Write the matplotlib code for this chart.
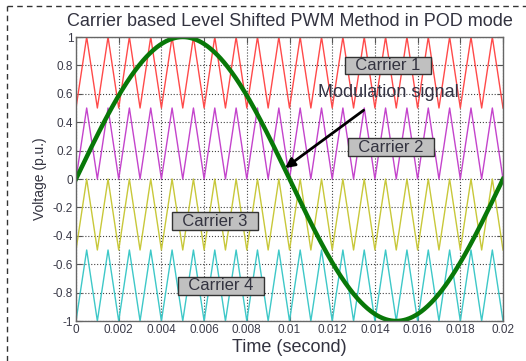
import numpy as np
import matplotlib.pyplot as plt
from matplotlib.lines import Line2D

plt.rcParams['font.family'] = ['Liberation Sans', 'DejaVu Sans']

# Signal parameters
f_mod = 50          # modulation frequency (Hz)
f_carrier = 1000    # carrier frequency (Hz)
t_end = 0.02
carrier_bottoms = [0.5, 0.0, -0.5, -1.0]
carrier_height = 0.5
carrier_colors = ['#ff4a4a', '#c444cc', '#c8c83a', '#3ec8c8']
carrier_names = ['Carrier 1', 'Carrier 2', 'Carrier 3', 'Carrier 4']
label_pos = [(0.01461, 0.80), (0.01475, 0.225), (0.00651, -0.296), (0.00679, -0.753)]

# carrier vertices: troughs and peaks every half period
n_half = int(round(2 * f_carrier * t_end))
t_vert = np.arange(n_half + 1) / (2 * f_carrier)
tri = (np.arange(n_half + 1) % 2).astype(float)

t = np.linspace(0, t_end, 1000)
mod = np.sin(2 * np.pi * f_mod * t)

fig = plt.figure(figsize=(5.26, 3.61), dpi=100)
ax = fig.add_axes([0.1445, 0.1108, 0.8118, 0.7867])

for b, c in zip(carrier_bottoms, carrier_colors):
    ax.plot(t_vert, b + carrier_height * tri, color=c, lw=1.0)
ax.plot(t, mod, color='#087808', lw=3.2)

ax.set_xlim(0, t_end)
ax.set_ylim(-1, 1)
ax.set_xticks(np.arange(0, 0.0201, 0.002))
ax.set_xticklabels(['0', '0.002', '0.004', '0.006', '0.008', '0.01',
                    '0.012', '0.014', '0.016', '0.018', '0.02'])
ax.set_yticks(np.arange(-1, 1.01, 0.2))
ax.set_yticklabels(['-1', '-0.8', '-0.6', '-0.4', '-0.2', '0',
                    '0.2', '0.4', '0.6', '0.8', '1'])
ax.grid(True, color='#444444', linestyle=':', linewidth=0.8)
ax.tick_params(direction='in', top=True, right=True, length=4,
               color='#555555', labelsize=8.5, labelcolor='#3a3a48', pad=2)
for s in ax.spines.values():
    s.set_color('#666666')
    s.set_linewidth(1.0)

ax.set_title('Carrier based Level Shifted PWM Method in POD mode',
             fontsize=13, color='#333340', pad=8)
ax.set_xlabel('Time (second)', fontsize=13, color='#333340', labelpad=2)
ax.set_ylabel('Voltage (p.u.)', fontsize=10, color='#333340', labelpad=4)

for name, (x, y) in zip(carrier_names, label_pos):
    ax.text(x, y, '  ' + name + '  ', fontsize=12, color='#333340',
            ha='center', va='center',
            bbox=dict(boxstyle='square,pad=0.08', fc='#c0c0c0', ec='#333333', lw=1.0))

ax.annotate('Modulation signal', xy=(0.00979, 0.077), xytext=(0.01461, 0.61),
            fontsize=13, color='#333344', ha='center', va='center',
            arrowprops=dict(arrowstyle='-|>', color='black', lw=2,
                            mutation_scale=14, shrinkA=8, shrinkB=0))

# dashed frame
fig.add_artist(Line2D([7 / 526, 1], [1 - 6 / 361, 1 - 6 / 361], color='#333333',
                      lw=1, linestyle=(0, (4, 3)), transform=fig.transFigure))
fig.add_artist(Line2D([7 / 526, 7 / 526], [0, 1 - 6 / 361], color='#333333',
                      lw=1, linestyle=(0, (4, 3)), transform=fig.transFigure))

fig.savefig('out.png', dpi=100)
